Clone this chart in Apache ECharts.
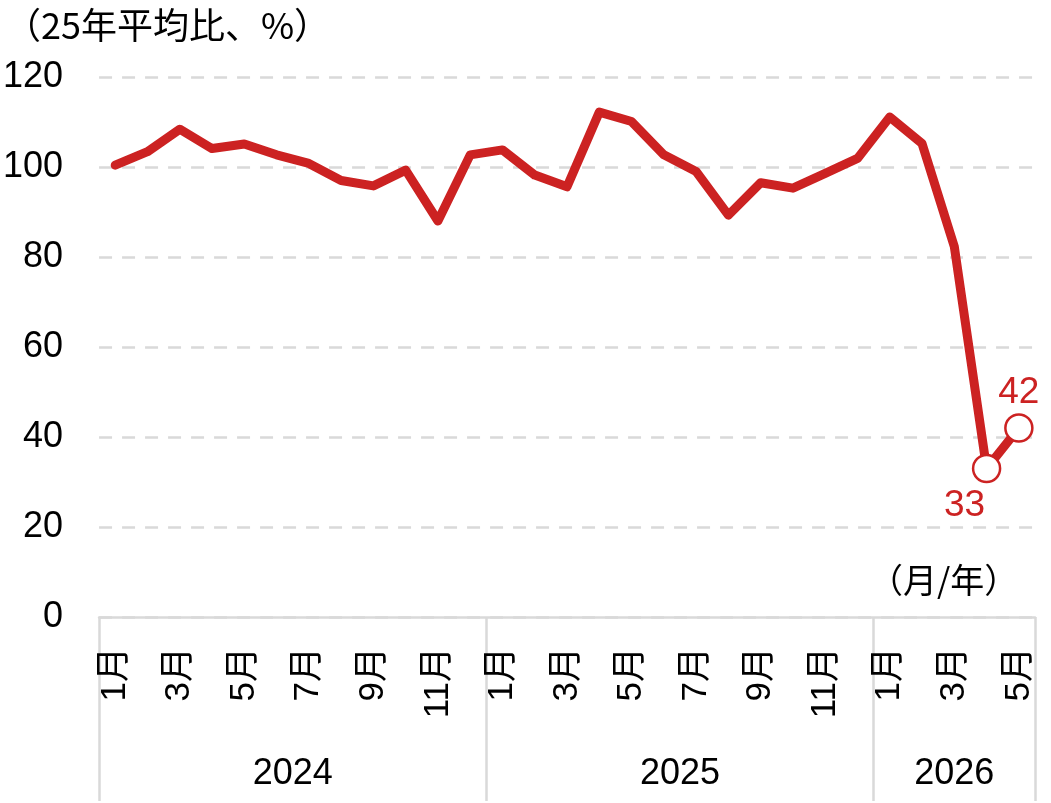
<!DOCTYPE html>
<html>
<head>
<meta charset="utf-8">
<script src="https://cdn.jsdelivr.net/npm/echarts@6/dist/echarts.min.js"></script>
<style>
html,body{margin:0;padding:0;background:#fff;}
#chart{width:1051px;height:803px;}
</style>
</head>
<body>
<div id="chart"></div>
<script>
// ---- data ----
const years = ['2024', '2025', '2026'];
const monthsPerYear = [12, 12, 5];
const monthNums = [1,2,3,4,5,6,7,8,9,10,11,12, 1,2,3,4,5,6,7,8,9,10,11,12, 1,2,3,4,5];
const values = [
  100.4, 103.4, 108.4, 104.1, 105.1, 102.7, 100.8, 97.0, 95.8, 99.3, 88.0, 102.7,
  103.8, 98.2, 95.6, 112.2, 110.1, 102.7, 99.0, 89.3, 96.5, 95.3, 98.6, 101.9,
  111.1, 105.2, 82.3, 33, 42
];
const labelledPoints = [27, 28];
const yTicks = [0, 20, 40, 60, 80, 100, 120];
const yTitle = '（25年平均比、%）';
const xTitle = '（月/年）';

// ---- derived ----
const FONT = "'Liberation Sans', Arial, 'Noto Sans CJK JP', sans-serif";
const RED = '#cc2222';
const GRAY = '#d9d9d9';
const monthLabels = monthNums.map(m => m + '月');
const boundaries = [0];
monthsPerYear.forEach(c => boundaries.push(boundaries[boundaries.length - 1] + c));
const yearCenters = monthsPerYear.map((c, i) => boundaries[i] + c / 2);
const total = boundaries[boundaries.length - 1];

const seriesData = values.map((v, i) => {
  if (labelledPoints.indexOf(i) < 0) return v;
  const isLow = i === 27;
  return {
    value: v,
    symbol: 'circle',
    symbolSize: 27,
    itemStyle: { color: '#fff', borderColor: RED, borderWidth: 2.5 },
    label: {
      show: true,
      position: isLow ? 'bottom' : 'top',
      distance: isLow ? 4 : 2,
      offset: isLow ? [-22, 0] : [0, 0],
      formatter: String(Math.round(v)),
      color: RED,
      fontSize: 37,
      fontFamily: FONT
    }
  };
});

const chart = echarts.init(document.getElementById('chart'), null, { renderer: 'canvas' });
chart.setOption({
  backgroundColor: '#fff',
  animation: false,
  title: [
    { text: yTitle, left: 0, top: 2,
      textStyle: { fontSize: 36, fontWeight: 'normal', color: '#000', fontFamily: "'Noto Sans CJK JP', sans-serif" } },
    { text: xTitle, left: 864, top: 558,
      textStyle: { fontSize: 34, fontWeight: 'normal', color: '#000', fontFamily: "'Noto Sans CJK JP', sans-serif" } }
  ],
  grid: { left: 96, right: 16, top: 77, bottom: 186, containLabel: false },
  xAxis: [
    {
      type: 'category',
      data: monthLabels,
      boundaryGap: true,
      position: 'bottom',
      axisLine: { show: true, lineStyle: { color: GRAY, width: 2.5 } },
      axisTick: { show: false },
      axisLabel: {
        interval: (i) => monthNums[i] % 2 === 1,
        rotate: 90,
        margin: 30,
        fontSize: 35,
        color: '#000',
        fontFamily: FONT
      },
      splitLine: { show: false }
    },
    {
      type: 'value',
      min: 0,
      max: total,
      position: 'bottom',
      offset: 0,
      axisLine: { show: false },
      axisTick: {
        show: true,
        customValues: boundaries,
        length: 184,
        inside: false,
        lineStyle: { color: GRAY, width: 2.5 }
      },
      axisLabel: {
        customValues: yearCenters,
        formatter: (v) => {
          const idx = yearCenters.indexOf(v);
          return idx >= 0 ? years[idx] : '';
        },
        margin: 139,
        fontSize: 36,
        color: '#000',
        fontFamily: FONT
      },
      splitLine: { show: false }
    }
  ],
  yAxis: {
    type: 'value',
    min: yTicks[0],
    max: yTicks[yTicks.length - 1],
    interval: yTicks[1] - yTicks[0],
    axisLine: { show: false },
    axisTick: { show: false },
    axisLabel: {
      margin: 36,
      fontSize: 36,
      color: '#000',
      fontFamily: FONT
    },
    splitLine: {
      show: true,
      lineStyle: { color: GRAY, width: 2.5, type: [13, 10] }
    }
  },
  series: [{
    type: 'line',
    xAxisIndex: 0,
    data: seriesData,
    symbol: 'none',
    showSymbol: true,
    lineStyle: { color: RED, width: 9, join: 'round', cap: 'round' },
    itemStyle: { color: RED },
    z: 3
  }]
});
</script>
</body>
</html>
